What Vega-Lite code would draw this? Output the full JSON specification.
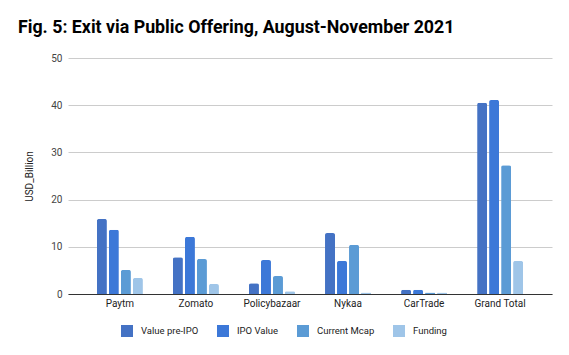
{
  "$schema": "https://vega.github.io/schema/vega-lite/v6.json",
  "width": 484,
  "height": 236,
  "autosize": {"type": "none"},
  "padding": {"left": 68, "top": 58, "right": 17, "bottom": 61},
  "background": "white",
  "title": {
    "text": "Fig. 5: Exit via Public Offering, August-November 2021",
    "anchor": "start",
    "frame": "group",
    "dx": -50,
    "offset": 16,
    "font": "Roboto",
    "fontSize": 17.8,
    "fontWeight": "bold",
    "color": "#000000"
  },
  "config": {
    "view": {"stroke": null},
    "font": "Roboto"
  },
  "data": {
    "values": [
      {"company": "Paytm", "measure": "Value pre-IPO", "value": 15.9},
      {"company": "Paytm", "measure": "IPO Value", "value": 13.6},
      {"company": "Paytm", "measure": "Current Mcap", "value": 5.1},
      {"company": "Paytm", "measure": "Funding", "value": 3.4},
      {"company": "Zomato", "measure": "Value pre-IPO", "value": 7.8},
      {"company": "Zomato", "measure": "IPO Value", "value": 12.1},
      {"company": "Zomato", "measure": "Current Mcap", "value": 7.4},
      {"company": "Zomato", "measure": "Funding", "value": 2.1},
      {"company": "Policybazaar", "measure": "Value pre-IPO", "value": 2.3},
      {"company": "Policybazaar", "measure": "IPO Value", "value": 7.2},
      {"company": "Policybazaar", "measure": "Current Mcap", "value": 3.8},
      {"company": "Policybazaar", "measure": "Funding", "value": 0.6},
      {"company": "Nykaa", "measure": "Value pre-IPO", "value": 12.9},
      {"company": "Nykaa", "measure": "IPO Value", "value": 7.0},
      {"company": "Nykaa", "measure": "Current Mcap", "value": 10.4},
      {"company": "Nykaa", "measure": "Funding", "value": 0.3},
      {"company": "CarTrade", "measure": "Value pre-IPO", "value": 0.9},
      {"company": "CarTrade", "measure": "IPO Value", "value": 0.9},
      {"company": "CarTrade", "measure": "Current Mcap", "value": 0.3},
      {"company": "CarTrade", "measure": "Funding", "value": 0.3},
      {"company": "Grand Total", "measure": "Value pre-IPO", "value": 40.5},
      {"company": "Grand Total", "measure": "IPO Value", "value": 41.1},
      {"company": "Grand Total", "measure": "Current Mcap", "value": 27.3},
      {"company": "Grand Total", "measure": "Funding", "value": 7.0}
    ]
  },
  "mark": {"type": "bar", "cornerRadiusTopLeft": 2, "cornerRadiusTopRight": 2},
  "encoding": {
    "x": {
      "field": "company",
      "type": "nominal",
      "sort": ["Paytm", "Zomato", "Policybazaar", "Nykaa", "CarTrade", "Grand Total"],
      "scale": {"paddingInner": 0.395, "paddingOuter": 0.38},
      "axis": {
        "title": null,
        "labelAngle": 0,
        "labelFont": "Roboto",
        "labelFontSize": 10,
        "labelColor": "#222222",
        "labelPadding": 4,
        "ticks": false,
        "domainColor": "#333333",
        "domainWidth": 1
      }
    },
    "xOffset": {
      "field": "measure",
      "type": "nominal",
      "sort": ["Value pre-IPO", "IPO Value", "Current Mcap", "Funding"],
      "scale": {"paddingInner": 0.167, "paddingOuter": 0}
    },
    "y": {
      "field": "value",
      "type": "quantitative",
      "scale": {"domain": [0, 50]},
      "axis": {
        "title": "USD_Billion",
        "titleFont": "Roboto",
        "titleFontSize": 10,
        "titleFontWeight": "normal",
        "titleColor": "#222222",
        "titlePadding": 16,
        "values": [0, 10, 20, 30, 40, 50],
        "labelFont": "Roboto",
        "labelFontSize": 10,
        "labelColor": "#444444",
        "labelPadding": 6,
        "ticks": false,
        "domain": false,
        "gridColor": "#cccccc"
      }
    },
    "color": {
      "field": "measure",
      "type": "nominal",
      "sort": ["Value pre-IPO", "IPO Value", "Current Mcap", "Funding"],
      "scale": {
        "domain": ["Value pre-IPO", "IPO Value", "Current Mcap", "Funding"],
        "range": ["#4472c4", "#3c78d8", "#5b9bd5", "#9fc5e8"]
      },
      "legend": {
        "title": null,
        "orient": "none",
        "legendX": 53,
        "legendY": 267,
        "direction": "horizontal",
        "symbolType": "square",
        "symbolSize": 144,
        "symbolStrokeWidth": 0,
        "labelFont": "Roboto",
        "labelFontSize": 9.5,
        "labelColor": "#222222",
        "labelOffset": 8,
        "columnPadding": 18
      }
    }
  }
}
